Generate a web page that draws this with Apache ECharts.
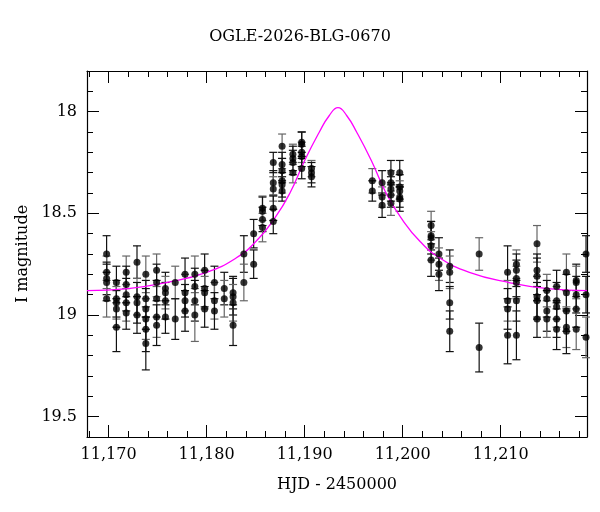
<!DOCTYPE html>
<html style="height:100%;">
<head>
    <meta charset="utf-8">
    <title>OGLE-2026-BLG-0670</title>
    <script src="https://cdn.jsdelivr.net/npm/echarts@6/dist/echarts.min.js"></script>
</head>
<body style="height:100%; margin:0;">
    <div id="main" style="width:600px; height:512px;"></div>
    <script type="text/javascript">
    // photometry: [HJD-2450000, I mag, error]
    var obs = [
        [11169.8,18.70,0.09],[11169.8,18.79,0.08],[11169.8,18.82,0.08],[11169.8,18.84,0.09],[11169.8,18.92,0.09],
        [11170.8,18.84,0.08],[11170.8,18.92,0.09],[11170.8,18.94,0.08],[11170.8,18.97,0.09],[11170.8,19.06,0.12],
        [11171.8,18.79,0.08],[11171.8,18.85,0.09],[11171.8,18.90,0.08],[11171.8,18.94,0.09],[11171.8,18.99,0.08],
        [11172.9,18.74,0.08],[11172.9,18.91,0.09],[11172.9,18.94,0.10],[11172.9,19.00,0.09],
        [11173.8,18.80,0.09],[11173.8,18.92,0.09],[11173.8,18.97,0.10],[11173.8,19.02,0.10],[11173.8,19.07,0.11],[11173.8,19.14,0.13],
        [11174.9,18.78,0.08],[11174.9,18.84,0.09],[11174.9,18.92,0.09],[11174.9,19.01,0.10],[11174.9,19.05,0.10],
        [11175.8,18.87,0.08],[11175.8,18.89,0.08],[11175.8,18.93,0.09],[11175.8,19.01,0.08],
        [11176.8,18.84,0.08],[11176.8,19.02,0.10],
        [11177.8,18.80,0.08],[11177.8,18.89,0.09],[11177.8,18.93,0.08],[11177.8,18.98,0.10],
        [11178.8,18.80,0.09],[11178.8,18.86,0.09],[11178.8,18.93,0.10],[11178.8,19.00,0.13],
        [11179.8,18.78,0.08],[11179.8,18.87,0.09],[11179.8,18.89,0.08],[11179.8,18.97,0.09],
        [11180.8,18.84,0.08],[11180.8,18.93,0.09],[11180.8,18.98,0.09],
        [11181.8,18.87,0.08],[11181.8,18.92,0.09],
        [11182.7,18.89,0.08],[11182.7,18.91,0.09],[11182.7,18.94,0.09],[11182.7,19.05,0.10],
        [11183.8,18.70,0.09],[11183.8,18.84,0.09],
        [11184.8,18.60,0.07],[11184.8,18.75,0.07],
        [11185.7,18.475,0.06],[11185.7,18.49,0.07],[11185.7,18.53,0.06],[11185.7,18.57,0.07],
        [11186.8,18.25,0.05],[11186.8,18.35,0.06],[11186.8,18.38,0.06],[11186.8,18.475,0.06],[11186.8,18.54,0.06],
        [11187.7,18.17,0.06],[11187.7,18.26,0.06],[11187.7,18.29,0.06],[11187.7,18.34,0.06],[11187.7,18.36,0.06],[11187.7,18.39,0.05],
        [11188.8,18.21,0.05],[11188.8,18.23,0.06],[11188.8,18.25,0.06],[11188.8,18.30,0.05],
        [11189.7,18.15,0.05],[11189.7,18.16,0.06],[11189.7,18.20,0.05],[11189.7,18.22,0.05],[11189.7,18.28,0.05],
        [11190.7,18.28,0.04],[11190.7,18.30,0.05],[11190.7,18.32,0.05],
        [11196.9,18.34,0.06],[11196.9,18.39,0.05],
        [11197.9,18.35,0.06],[11197.9,18.42,0.05],[11197.9,18.46,0.06],
        [11198.8,18.30,0.06],[11198.8,18.35,0.06],[11198.8,18.38,0.06],[11198.8,18.41,0.06],[11198.8,18.45,0.06],
        [11199.7,18.30,0.06],[11199.7,18.37,0.06],[11199.7,18.39,0.05],[11199.7,18.42,0.05],[11199.7,18.43,0.06],
        [11202.9,18.56,0.07],[11202.9,18.61,0.07],[11202.9,18.62,0.08],[11202.9,18.66,0.07],[11202.9,18.73,0.08],
        [11203.7,18.70,0.08],[11203.7,18.75,0.08],[11203.7,18.80,0.08],
        [11204.8,18.76,0.08],[11204.8,18.79,0.08],[11204.8,18.94,0.08],[11204.8,19.08,0.10],
        [11207.8,18.70,0.08],[11207.8,19.16,0.12],
        [11210.7,18.79,0.13],[11210.7,18.93,0.10],[11210.7,18.97,0.10],[11210.7,19.10,0.14],
        [11211.6,18.75,0.07],[11211.6,18.78,0.08],[11211.6,18.82,0.09],[11211.6,18.84,0.08],[11211.6,18.93,0.10],[11211.6,19.10,0.12],
        [11213.7,18.65,0.09],[11213.7,18.78,0.08],[11213.7,18.81,0.09],[11213.7,18.91,0.10],[11213.7,18.93,0.09],[11213.7,19.02,0.09],
        [11214.7,18.88,0.08],[11214.7,18.92,0.09],[11214.7,18.98,0.10],[11214.7,19.02,0.09],
        [11215.7,18.86,0.08],[11215.7,18.93,0.09],[11215.7,18.96,0.10],[11215.7,19.02,0.09],[11215.7,19.07,0.10],
        [11216.7,18.79,0.09],[11216.7,18.89,0.09],[11216.7,18.98,0.10],[11216.7,19.06,0.10],[11216.7,19.08,0.11],
        [11217.7,18.83,0.08],[11217.7,18.84,0.08],[11217.7,18.90,0.09],[11217.7,18.97,0.09],[11217.7,19.07,0.10],
        [11218.7,18.70,0.09],[11218.7,18.90,0.09],[11218.7,19.11,0.10]
    ];
    // model curve
    var modelT = [11167.8,11172,11176,11180,11183,11185,11187,11188.5,11190,11191.5,11192.5,11193.4,
                  11194.3,11195.3,11196.8,11198.3,11199.8,11201.8,11203.8,11206.8,11210.8,11214.8,11218.8];
    var modelMag = [18.88,18.87,18.84,18.79,18.72,18.64,18.52,18.40,18.24,18.10,18.02,17.98,
                    18.02,18.10,18.24,18.40,18.52,18.64,18.72,18.79,18.84,18.87,18.88];
    var xTicks = [11170, 11180, 11190, 11200, 11210];
    var yTicks = [18, 18.5, 19, 19.5];

    var xMinor = [], yMinor = [];
    for (var v = 11168; v <= 11218; v += 2) xMinor.push(v);
    for (var k = 18; k <= 196; k++) yMinor.push(k / 10);

    var font = 'DejaVu Serif';
    var xMin = 11167.8, xMax = 11218.8, yMin = 17.8, yMax = 19.6;

    function frameAxis(pos, isX, labels) {
        var ax = {
            type: 'value', position: pos, min: isX ? xMin : yMin, max: isX ? xMax : yMax,
            inverse: !isX,
            axisLine: { show: true, onZero: false, lineStyle: { color: '#000', width: 1.2 } },
            axisTick: { show: true, inside: true, length: 12, customValues: isX ? xTicks : yTicks,
                        lineStyle: { color: '#000' } },
            minorTick: { show: false },
            splitLine: { show: false },
            axisLabel: { show: labels, customValues: isX ? xTicks : yTicks, fontFamily: font,
                         fontSize: 16, color: '#000', margin: 10 }
        };
        return ax;
    }
    var xa = [frameAxis('bottom', true, true), frameAxis('top', true, false)];
    xa[0].name = 'HJD - 2450000'; xa[0].nameLocation = 'middle'; xa[0].nameGap = 40;
    xa[0].nameTextStyle = { fontFamily: font, fontSize: 16, color: '#000' };
    var ya = [frameAxis('left', false, true), frameAxis('right', false, false)];
    ya[0].name = 'I magnitude'; ya[0].nameLocation = 'middle'; ya[0].nameGap = 55;
    ya[0].nameTextStyle = { fontFamily: font, fontSize: 16, color: '#000' };

    // minor ticks drawn as extra axes sharing the grid
    function minorAxis(pos, isX) {
        return {
            type: 'value', position: pos, min: isX ? xMin : yMin, max: isX ? xMax : yMax, inverse: !isX,
            axisLine: { show: false },
            axisTick: { show: true, inside: true, length: 6, customValues: isX ? xMinor : yMinor,
                        lineStyle: { color: '#000' } },
            axisLabel: { show: false }, splitLine: { show: false }
        };
    }
    xa.push(minorAxis('bottom', true), minorAxis('top', true));
    ya.push(minorAxis('left', false), minorAxis('right', false));

    var myChart = echarts.init(document.getElementById('main'));
    myChart.setOption({
        animation: false,
        title: { text: 'OGLE-2026-BLG-0670', left: 'center', top: 24,
                 textStyle: { fontFamily: font, fontSize: 16, fontWeight: 'normal', color: '#000' } },
        grid: { left: 87, right: 13, top: 71, bottom: 75 },
        xAxis: xa,
        yAxis: ya,
        series: [{
            type: 'custom',
            data: obs,
            renderItem: function (params, api) {
                var t = api.value(0), m = api.value(1), e = api.value(2);
                var hi = api.coord([t, m - e]), lo = api.coord([t, m + e]);
                var col = params.dataIndex % 3 === 1 ? '#666' : '#111';
                return {
                    type: 'group',
                    children: [
                        { type: 'line', shape: { x1: hi[0], y1: hi[1], x2: lo[0], y2: lo[1] }, style: { stroke: col, lineWidth: 1.2 } },
                        { type: 'line', shape: { x1: hi[0] - 4, y1: hi[1], x2: hi[0] + 4, y2: hi[1] }, style: { stroke: col, lineWidth: 1.2 } },
                        { type: 'line', shape: { x1: lo[0] - 4, y1: lo[1], x2: lo[0] + 4, y2: lo[1] }, style: { stroke: col, lineWidth: 1.2 } }
                    ]
                };
            },
            z: 1
        }, {
            type: 'line',
            data: modelT.map(function (t, i) { return [t, modelMag[i]]; }),
            smooth: 0.5, showSymbol: false,
            lineStyle: { color: '#ff00ff', width: 1.3 },
            z: 2
        }, {
            type: 'scatter',
            data: obs.map(function (p) { return [p[0], p[1]]; }),
            symbolSize: 7,
            itemStyle: { color: '#000' },
            z: 3
        }]
    });
    </script>
</body>
</html>
